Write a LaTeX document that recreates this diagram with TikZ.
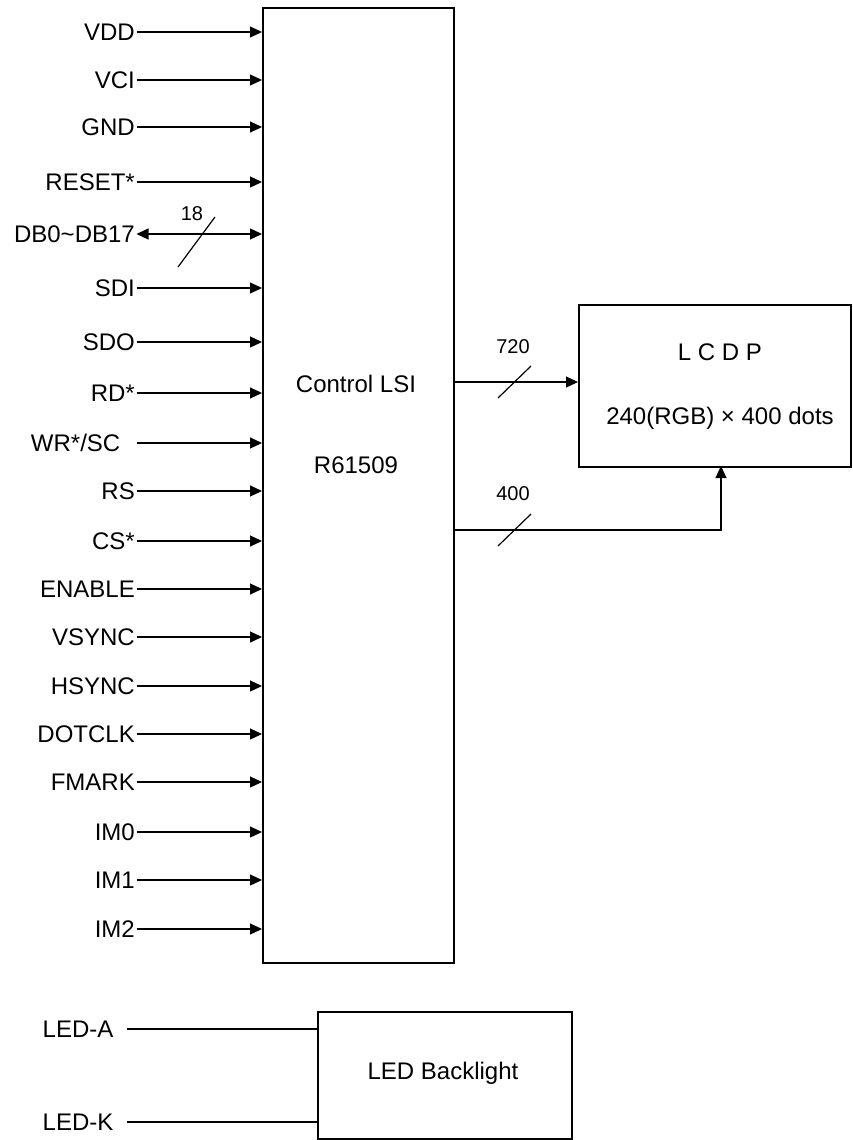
\documentclass[tikz,border=0pt]{standalone}
\usepackage{fontspec}
\setmainfont{Liberation Sans}
\usetikzlibrary{arrows.meta}
\begin{document}
\begin{tikzpicture}[x=1pt,y=-1pt,
  box/.style={draw,line width=2.2pt,anchor=north west,inner sep=0pt},
  sig/.style={anchor=east,inner sep=1.5pt,font=\fontsize{24}{28}\selectfont,text height=17pt,text depth=0pt},
  txt/.style={inner sep=0pt,font=\fontsize{24}{28}\selectfont},
  small/.style={inner sep=0pt,font=\fontsize{20}{24}\selectfont},
  wire/.style={line width=1.2pt},
  arr/.style={line width=1.2pt,-{Triangle[length=12pt,width=11pt]}},
  darr/.style={line width=1.2pt,{Triangle[length=12pt,width=11pt]}-{Triangle[length=12pt,width=11pt]}}]
\useasboundingbox (0,0) rectangle (852,1140);

% boxes
\node[box,minimum width=191pt,minimum height=955pt] (lsi) at (262,7) {};
\node[box,minimum width=272pt,minimum height=162pt] (lcdp) at (578,304) {};
\node[box,minimum width=254pt,minimum height=127pt] (led) at (317,1011) {};

\node[txt] (t1) at (356,384) {Control LSI};
\node[txt] (t2) at (356,465) {R61509};
\node[txt] (t3) at (720,352) {L C D P};
\node[txt] (t4) at (720,418) {240(RGB) × 400 dots};
\node[txt] (t5) at (443,1073) {LED Backlight};

% input signals
\foreach \n/\t/\y in {vdd/VDD/32, vci/VCI/80, gnd/GND/127, rst/RESET*/182,
  sdi/SDI/288, sdo/SDO/342, rd/RD*/393, rs/RS/491, cs/CS*/541,
  en/ENABLE/589, vs/VSYNC/637, hs/HSYNC/686, dc/DOTCLK/734, fm/FMARK/782,
  im0/IM0/832, im1/IM1/880, im2/IM2/929}{
  \node[sig] (\n) at (136.5,\y) {\t};
  \draw[arr] (\n.east) -- (lsi.west |- \n.east);
}
\node[sig] (wr) at (122,443) {WR*/SC};
\coordinate (wrs) at (137,443);
\draw[arr] (wrs) -- (lsi.west |- wrs);

% data bus
\node[sig] (db) at (136.5,234) {DB0\textasciitilde DB17};
\draw[darr] (db.east) -- (lsi.west |- db.east);
\coordinate (dbs1) at (178,267);
\coordinate (dbs2) at (215,217);
\draw[wire] (dbs1) -- (dbs2);
\node[small] (n18) at (192,214) {18};

% outputs to LCDP
\coordinate (o720) at (lsi.east |- 0,382);
\draw[arr] (o720) -- (lcdp.west |- o720);
\coordinate (s7a) at (498,398);
\coordinate (s7b) at (531,366);
\draw[wire] (s7a) -- (s7b);
\node[small] (n720) at (513,347) {720};

\coordinate (o400) at (lsi.east |- 0,530);
\coordinate (i400) at (721,466);
\draw[arr] (o400) -| (i400);
\coordinate (s4a) at (498,546);
\coordinate (s4b) at (531,514);
\draw[wire] (s4a) -- (s4b);
\node[small] (n400) at (513,494) {400};

% LED backlight
\node[sig,anchor=west] (la) at (41,1029) {LED-A};
\node[sig,anchor=west] (lk) at (41,1122) {LED-K};
\coordinate (las) at (127,1029);
\coordinate (lks) at (127,1122);
\draw[wire] (las) -- (led.west |- las);
\draw[wire] (lks) -- (led.west |- lks);
\end{tikzpicture}
\end{document}
